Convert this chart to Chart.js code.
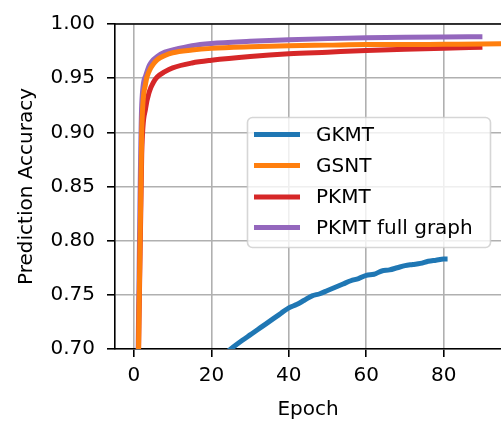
<!DOCTYPE html>
<html>
<head>
<meta charset="utf-8">
<script src="https://cdn.jsdelivr.net/npm/chart.js@4.4.1/dist/chart.umd.min.js"></script>
<style>
  html, body { margin: 0; padding: 0; background: #fff; }
  #wrap { width: 501px; height: 422px; position: relative; }
</style>
</head>
<body>
<div id="wrap"><canvas id="accChart"></canvas></div>
<script>
// --- data ---
const seriesLabels = ['GKMT', 'GSNT', 'PKMT', 'PKMT full graph'];
const seriesColors = ['#1f77b4', '#ff7f0e', '#d62728', '#9467bd'];

const gkmtEpoch = [20, 25, 28, 30, 32, 34, 36, 38, 40, 42, 44, 46, 48, 50, 52, 54, 56, 58, 60, 62, 64, 66, 68, 70, 72, 74, 76, 78, 80, 81];
const gkmtAcc   = [0.685, 0.700, 0.708, 0.713, 0.718, 0.723, 0.728, 0.733, 0.738, 0.741, 0.745, 0.749, 0.751, 0.754, 0.757, 0.760, 0.763, 0.765, 0.768, 0.769, 0.772, 0.773, 0.775, 0.777, 0.778, 0.779, 0.781, 0.782, 0.783, 0.783];

const gsntEpoch = [1, 2, 3, 4, 5, 6, 8, 10, 15, 20, 30, 40, 50, 60, 70, 80, 90, 99];
const gsntAcc   = [0.650, 0.900, 0.945, 0.957, 0.963, 0.967, 0.971, 0.9735, 0.976, 0.9775, 0.979, 0.980, 0.9805, 0.981, 0.981, 0.9813, 0.9815, 0.982];

const pkmtEpoch = [1, 2, 3, 4, 5, 6, 8, 10, 15, 20, 30, 40, 50, 60, 70, 80, 90];
const pkmtAcc   = [0.650, 0.880, 0.922, 0.938, 0.946, 0.951, 0.956, 0.9595, 0.964, 0.9665, 0.970, 0.9725, 0.974, 0.9755, 0.9767, 0.9777, 0.9785];

const fullEpoch = [1, 2, 3, 4, 5, 6, 8, 10, 15, 20, 30, 40, 50, 60, 70, 80, 90];
const fullAcc   = [0.680, 0.925, 0.952, 0.962, 0.967, 0.970, 0.974, 0.976, 0.980, 0.982, 0.984, 0.9855, 0.9865, 0.9872, 0.9877, 0.988, 0.9882];

const xTicks = [0, 20, 40, 60, 80];
const yTicks = [0.70, 0.75, 0.80, 0.85, 0.90, 0.95, 1.00];

const toPts = (xs, ys) => xs.map((x, i) => ({ x: x, y: ys[i] }));
const allSeries = [toPts(gkmtEpoch, gkmtAcc), toPts(gsntEpoch, gsntAcc), toPts(pkmtEpoch, pkmtAcc), toPts(fullEpoch, fullAcc)];

const FONT = "'DejaVu Sans', sans-serif";
Chart.defaults.font.family = FONT;
Chart.defaults.color = '#000';

// top spine + matplotlib-like legend box inside the axes
const extras = {
    id: 'extras',
    afterDraw(chart) {
        const { ctx, chartArea: a } = chart;
        ctx.save();
        ctx.strokeStyle = '#000'; ctx.lineWidth = 1.6;
        ctx.beginPath(); ctx.moveTo(a.left - 0.8, a.top); ctx.lineTo(a.right, a.top); ctx.stroke();

        // legend
        const bx = 247.5, by = 117.5, bw = 243, bh = 130, r = 5;
        ctx.fillStyle = 'rgba(255,255,255,0.8)';
        ctx.strokeStyle = 'rgba(204,204,204,0.8)'; ctx.lineWidth = 1.6;
        ctx.beginPath(); ctx.roundRect(bx, by, bw, bh, r); ctx.fill(); ctx.stroke();
        ctx.font = '20px ' + FONT; ctx.textBaseline = 'middle'; ctx.fillStyle = '#000';
        const rowY = [134.5, 165.5, 197, 227.5];
        chart.data.datasets.forEach((ds, i) => {
            ctx.strokeStyle = ds.borderColor; ctx.lineWidth = 5; ctx.lineCap = 'butt';
            ctx.beginPath(); ctx.moveTo(254, rowY[i]); ctx.lineTo(300, rowY[i]); ctx.stroke();
            ctx.fillText(ds.label, 316, rowY[i] + 1);
        });
        ctx.restore();
    }
};

new Chart(document.getElementById('accChart').getContext('2d'), {
    type: 'line',
    data: {
        datasets: seriesLabels.map((lab, i) => ({
            label: lab, data: allSeries[i], borderColor: seriesColors[i], backgroundColor: seriesColors[i],
            borderWidth: 5, pointRadius: 0, cubicInterpolationMode: 'monotone', fill: false, clip: 0
        }))
    },
    options: {
        responsive: true, maintainAspectRatio: false, animation: false,
        layout: { padding: { top: 17, right: 0, left: 0, bottom: 0 } },
        plugins: { legend: { display: false }, tooltip: { enabled: false } },
        scales: {
            x: {
                type: 'linear', min: -4.9, max: 94.8,
                afterBuildTicks: s => { s.ticks = xTicks.map(v => ({ value: v })); },
                afterFit: s => { s.height = 73; },
                ticks: { font: { size: 20 }, color: '#000', padding: 7, maxRotation: 0 },
                grid: { color: '#b0b0b0', lineWidth: 1.6, tickColor: '#000', tickLength: 8, tickWidth: 1.6 },
                border: { color: '#000', width: 1.6 },
                title: { display: true, text: 'Epoch', font: { size: 20 }, color: '#000', padding: { top: 0, bottom: 0 } }
            },
            y: {
                min: 0.70, max: 1.00,
                afterBuildTicks: s => { s.ticks = yTicks.map(v => ({ value: v })); },
                afterFit: s => { s.width = 115; },
                ticks: { font: { size: 20 }, color: '#000', padding: 12, callback: v => v.toFixed(2) },
                grid: { color: '#b0b0b0', lineWidth: 1.6, tickColor: '#000', tickLength: 8, tickWidth: 1.6 },
                border: { color: '#000', width: 1.6 },
                title: { display: true, text: 'Prediction Accuracy', font: { size: 20 }, color: '#000', padding: { top: 15, bottom: 0 } }
            }
        }
    },
    plugins: [extras]
});
</script>
</body>
</html>
